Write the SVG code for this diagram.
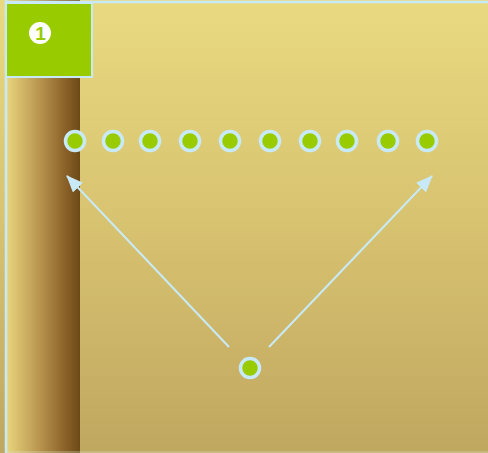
<svg xmlns="http://www.w3.org/2000/svg" width="488" height="453" viewBox="0 0 488 453">
<defs>
<linearGradient id="bg" x1="0" y1="0" x2="0" y2="1">
<stop offset="0" stop-color="#e9da80"/>
<stop offset="0.5" stop-color="#d7c270"/>
<stop offset="1" stop-color="#c0a760"/>
</linearGradient>
<linearGradient id="pillar" x1="0" y1="0" x2="1" y2="0">
<stop offset="0" stop-color="#e8d47c"/>
<stop offset="0.45" stop-color="#b8944e"/>
<stop offset="0.8" stop-color="#8a6128"/>
<stop offset="1" stop-color="#6c4a18"/>
</linearGradient>
<marker id="arr" viewBox="0 0 17 14" refX="16" refY="7" markerWidth="17" markerHeight="14" orient="auto" markerUnits="userSpaceOnUse">
<path d="M0,0 L17,7 L0,14 Z" fill="#c8eaf8"/>
</marker>
<style>
.dot{fill:#99cc00;stroke:#c8eaf8;stroke-width:3.5}
.conn{stroke:#c8eaf8;stroke-width:2;fill:none}
</style>
</defs>
<rect x="0" y="0" width="488" height="453" fill="url(#bg)"/>
<rect x="7" y="0" width="73" height="453" fill="url(#pillar)"/>
<line x1="5" y1="2" x2="488" y2="2" stroke="#c8eaf8" stroke-width="2.5"/>
<line x1="6" y1="0" x2="6" y2="453" stroke="#c8eaf8" stroke-width="2.5"/>
<line x1="5" y1="452" x2="488" y2="452" stroke="#d8e6c8" stroke-width="1" opacity="0.6"/>
<g id="badge">
<rect x="6" y="3" width="86" height="74" fill="#99cc00" stroke="#c8eaf8" stroke-width="2"/>
<circle cx="40" cy="33" r="11" fill="#ffffff"/>
<text x="40.5" y="40" font-family="Liberation Sans, Arial, sans-serif" font-size="19" font-weight="bold" fill="#99cc00" text-anchor="middle">1</text>
</g>
<g id="connectors">
<line class="conn" x1="229" y1="347" x2="67" y2="176" marker-end="url(#arr)"/>
<line class="conn" x1="269" y1="347" x2="432" y2="176" marker-end="url(#arr)"/>
</g>
<g id="dot1"><circle class="dot" cx="75" cy="141" r="9.5"/></g>
<g id="dot2"><circle class="dot" cx="113" cy="141" r="9.5"/></g>
<g id="dot3"><circle class="dot" cx="150" cy="141" r="9.5"/></g>
<g id="dot4"><circle class="dot" cx="190" cy="141" r="9.5"/></g>
<g id="dot5"><circle class="dot" cx="230" cy="141" r="9.5"/></g>
<g id="dot6"><circle class="dot" cx="270" cy="141" r="9.5"/></g>
<g id="dot7"><circle class="dot" cx="310" cy="141" r="9.5"/></g>
<g id="dot8"><circle class="dot" cx="347" cy="141" r="9.5"/></g>
<g id="dot9"><circle class="dot" cx="388" cy="141" r="9.5"/></g>
<g id="dot10"><circle class="dot" cx="427" cy="141" r="9.5"/></g>
<g id="source"><circle class="dot" cx="250" cy="368" r="9.5"/></g>
</svg>
